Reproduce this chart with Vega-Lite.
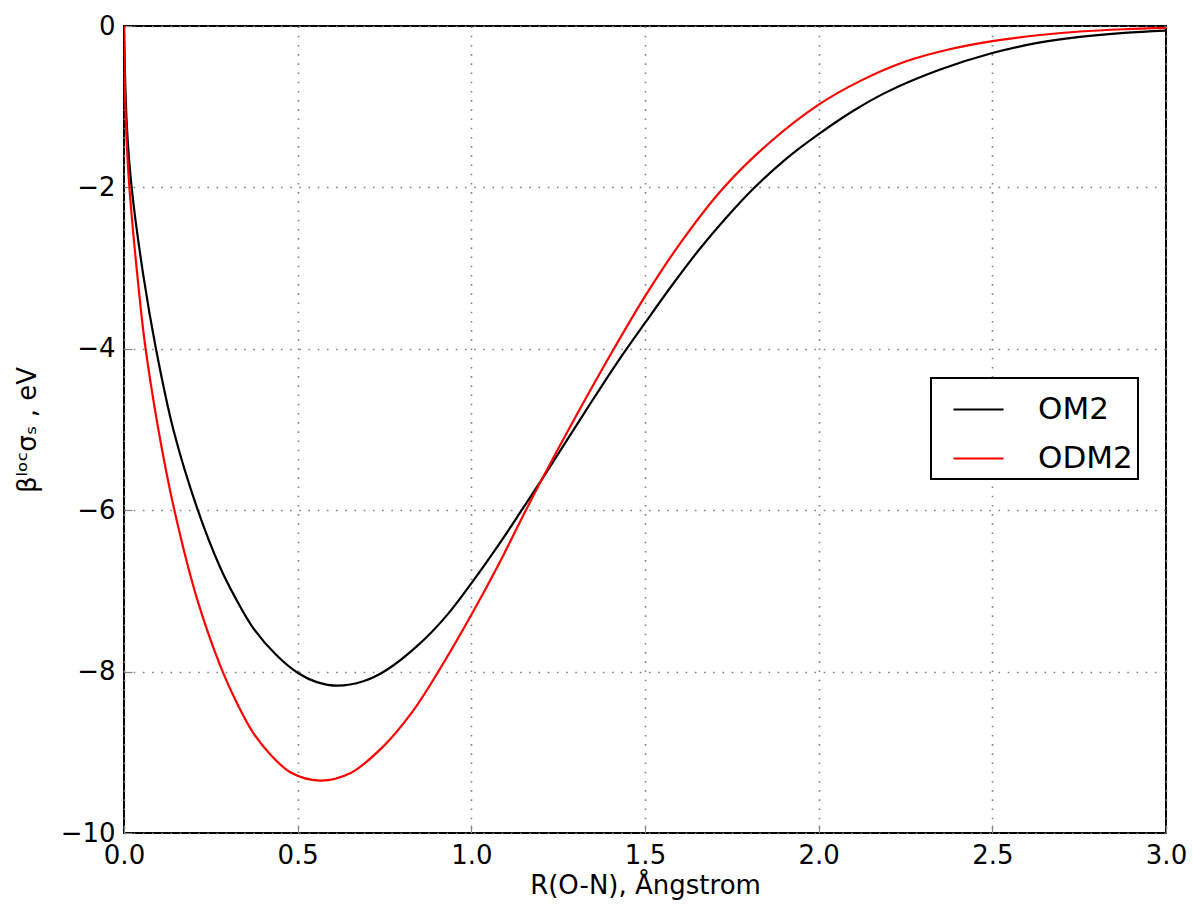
{
  "$schema": "https://vega.github.io/schema/vega-lite/v6.json",
  "width": 1042,
  "height": 807,
  "autosize": {"type": "none"},
  "padding": {"left": 124, "top": 26, "right": 27, "bottom": 78},
  "background": "white",
  "config": {
    "font": "DejaVu Sans",
    "view": {"stroke": "black", "strokeWidth": 2},
    "axis": {
      "domain": false,
      "grid": true,
      "gridColor": "#808080",
      "gridDash": [1.6, 7.6],
      "gridWidth": 1.6,
      "tickColor": "#888888",
      "tickSize": -8,
      "tickWidth": 1.2,
      "labelFlush": false,
      "labelFont": "DejaVu Sans",
      "labelFontSize": 26,
      "labelColor": "black",
      "titleFont": "DejaVu Sans",
      "titleFontSize": 26,
      "titleFontWeight": "normal",
      "titleColor": "black"
    }
  },
  "data": {
    "values": [
      {"r": 0.0, "beta": 0.0, "method": "OM2"},
      {"r": 0.008, "beta": -1.22, "method": "OM2"},
      {"r": 0.022, "beta": -2.0, "method": "OM2"},
      {"r": 0.056, "beta": -3.1, "method": "OM2"},
      {"r": 0.092, "beta": -4.0, "method": "OM2"},
      {"r": 0.142, "beta": -5.0, "method": "OM2"},
      {"r": 0.211, "beta": -5.98, "method": "OM2"},
      {"r": 0.276, "beta": -6.7, "method": "OM2"},
      {"r": 0.32, "beta": -7.08, "method": "OM2"},
      {"r": 0.372, "beta": -7.46, "method": "OM2"},
      {"r": 0.44, "beta": -7.8, "method": "OM2"},
      {"r": 0.502, "beta": -8.02, "method": "OM2"},
      {"r": 0.555, "beta": -8.13, "method": "OM2"},
      {"r": 0.615, "beta": -8.175, "method": "OM2"},
      {"r": 0.689, "beta": -8.12, "method": "OM2"},
      {"r": 0.756, "beta": -7.98, "method": "OM2"},
      {"r": 0.85, "beta": -7.66, "method": "OM2"},
      {"r": 0.93, "beta": -7.3, "method": "OM2"},
      {"r": 1.001, "beta": -6.9, "method": "OM2"},
      {"r": 1.08, "beta": -6.42, "method": "OM2"},
      {"r": 1.145, "beta": -6.0, "method": "OM2"},
      {"r": 1.212, "beta": -5.56, "method": "OM2"},
      {"r": 1.332, "beta": -4.75, "method": "OM2"},
      {"r": 1.42, "beta": -4.17, "method": "OM2"},
      {"r": 1.5, "beta": -3.68, "method": "OM2"},
      {"r": 1.58, "beta": -3.2, "method": "OM2"},
      {"r": 1.658, "beta": -2.76, "method": "OM2"},
      {"r": 1.735, "beta": -2.37, "method": "OM2"},
      {"r": 1.811, "beta": -2.02, "method": "OM2"},
      {"r": 1.908, "beta": -1.64, "method": "OM2"},
      {"r": 2.0, "beta": -1.34, "method": "OM2"},
      {"r": 2.1, "beta": -1.05, "method": "OM2"},
      {"r": 2.2, "beta": -0.81, "method": "OM2"},
      {"r": 2.35, "beta": -0.54, "method": "OM2"},
      {"r": 2.5, "beta": -0.335, "method": "OM2"},
      {"r": 2.63, "beta": -0.21, "method": "OM2"},
      {"r": 2.752, "beta": -0.135, "method": "OM2"},
      {"r": 2.88, "beta": -0.085, "method": "OM2"},
      {"r": 3.0, "beta": -0.058, "method": "OM2"},
      {"r": 0.0, "beta": 0.0, "method": "ODM2"},
      {"r": 0.005, "beta": -1.15, "method": "ODM2"},
      {"r": 0.015, "beta": -1.97, "method": "ODM2"},
      {"r": 0.041, "beta": -3.2, "method": "ODM2"},
      {"r": 0.06, "beta": -3.93, "method": "ODM2"},
      {"r": 0.099, "beta": -5.0, "method": "ODM2"},
      {"r": 0.144, "beta": -5.98, "method": "ODM2"},
      {"r": 0.209, "beta": -7.08, "method": "ODM2"},
      {"r": 0.281, "beta": -7.97, "method": "ODM2"},
      {"r": 0.325, "beta": -8.39, "method": "ODM2"},
      {"r": 0.372, "beta": -8.76, "method": "ODM2"},
      {"r": 0.42, "beta": -9.02, "method": "ODM2"},
      {"r": 0.48, "beta": -9.25, "method": "ODM2"},
      {"r": 0.564, "beta": -9.35, "method": "ODM2"},
      {"r": 0.651, "beta": -9.26, "method": "ODM2"},
      {"r": 0.746, "beta": -8.93, "method": "ODM2"},
      {"r": 0.83, "beta": -8.5, "method": "ODM2"},
      {"r": 0.905, "beta": -8.0, "method": "ODM2"},
      {"r": 1.001, "beta": -7.29, "method": "ODM2"},
      {"r": 1.08, "beta": -6.66, "method": "ODM2"},
      {"r": 1.157, "beta": -6.0, "method": "ODM2"},
      {"r": 1.23, "beta": -5.4, "method": "ODM2"},
      {"r": 1.303, "beta": -4.82, "method": "ODM2"},
      {"r": 1.389, "beta": -4.16, "method": "ODM2"},
      {"r": 1.5, "beta": -3.35, "method": "ODM2"},
      {"r": 1.61, "beta": -2.64, "method": "ODM2"},
      {"r": 1.725, "beta": -2.01, "method": "ODM2"},
      {"r": 1.86, "beta": -1.44, "method": "ODM2"},
      {"r": 2.0, "beta": -0.975, "method": "ODM2"},
      {"r": 2.12, "beta": -0.68, "method": "ODM2"},
      {"r": 2.25, "beta": -0.44, "method": "ODM2"},
      {"r": 2.38, "beta": -0.285, "method": "ODM2"},
      {"r": 2.5, "beta": -0.188, "method": "ODM2"},
      {"r": 2.63, "beta": -0.115, "method": "ODM2"},
      {"r": 2.752, "beta": -0.068, "method": "ODM2"},
      {"r": 2.88, "beta": -0.04, "method": "ODM2"},
      {"r": 3.0, "beta": -0.024, "method": "ODM2"}
    ]
  },
  "mark": {"type": "line", "interpolate": "catmull-rom", "tension": 0.5, "strokeWidth": 2.2, "clip": true},
  "encoding": {
    "x": {
      "field": "r",
      "type": "quantitative",
      "scale": {"domain": [0, 3], "nice": false, "zero": false},
      "axis": {
        "title": "R(O-N), Ångstrom",
        "values": [0, 0.5, 1, 1.5, 2, 2.5, 3],
        "format": ".1f",
        "labelPadding": 17,
        "titlePadding": 4
      }
    },
    "y": {
      "field": "beta",
      "type": "quantitative",
      "scale": {"domain": [-10, 0], "nice": false, "zero": false},
      "axis": {
        "title": "βˡᵒᶜσₛ , eV",
        "values": [-10, -8, -6, -4, -2, 0],
        "format": "d",
        "labelPadding": 17,
        "titlePadding": 20
      }
    },
    "color": {
      "field": "method",
      "type": "nominal",
      "sort": ["OM2", "ODM2"],
      "scale": {"domain": ["OM2", "ODM2"], "range": ["black", "red"]},
      "legend": {
        "title": null,
        "orient": "none",
        "legendX": 807,
        "legendY": 352,
        "strokeColor": "black",
        "fillColor": "white",
        "padding": 5,
        "symbolType": "stroke",
        "symbolSize": 2500,
        "symbolStrokeWidth": 2.2,
        "symbolOffset": 16,
        "labelOffset": 33,
        "labelFontSize": 31,
        "labelFont": "DejaVu Sans",
        "labelColor": "black",
        "rowPadding": 7,
        "cornerRadius": 0,
        "encode": {"legend": {"update": {"strokeWidth": {"value": 2}}}}
      }
    }
  }
}
